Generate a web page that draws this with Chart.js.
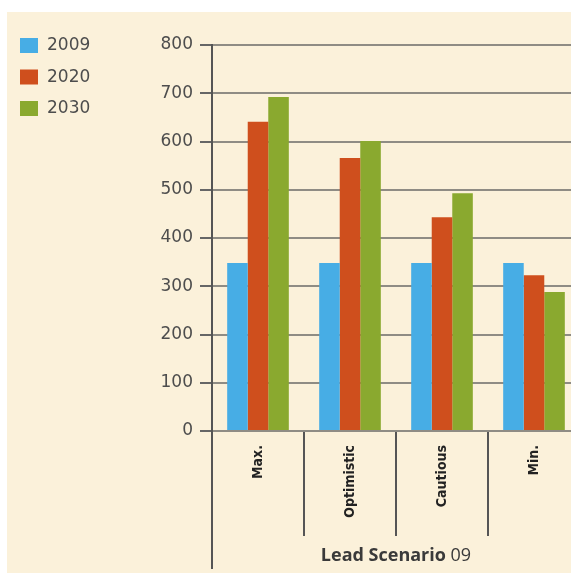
<!DOCTYPE html>
<html>
<head>
<meta charset="utf-8">
<script src="https://cdn.jsdelivr.net/npm/chart.js@4.4.1/dist/chart.umd.min.js"></script>
<style>
  html, body { margin: 0; padding: 0; background: #fff; overflow: hidden; width: 571px; height: 573px; }
  #wrap { position: absolute; left: 7px; top: 12px; width: 600px; height: 561px; background: #fbf1da; }
</style>
</head>
<body>
<div id="wrap"><canvas id="cBar" width="600" height="561"></canvas></div>
<script>
/* lead scenario bar chart */

var categories = ["Max.", "Optimistic", "Cautious", "Min."];
var years = ["2009", "2020", "2030"];
var v2009 = [348, 348, 348, 348];
var v2020 = [641, 566, 443, 323];
var v2030 = [692, 601, 493, 288];
var yTicks = { min: 0, max: 800, step: 100 };
var axisTitle = "Lead Scenario";
var axisTitleSuffix = "09";

var colors = ["#47ade5", "#cf4f1d", "#8aa92f"];
var INK = "#4d4d4d";

var legendPlugin = {
  id: "sideLegend",
  afterDraw: function(ch) {
    var c = ch.ctx;
    c.save();
    c.font = "17px 'DejaVu Sans'";
    c.textBaseline = "middle";
    ch.data.datasets.forEach(function(ds, i) {
      var y = 33 + i * 31.5;
      c.fillStyle = ds.backgroundColor;
      c.fillRect(13, y - 7, 18, 15);
      c.fillStyle = INK;
      c.fillText(ds.label, 40, y + 1);
    });
    c.restore();
  }
};

var axisExtras = {
  id: "axisExtras",
  afterDraw: function(ch) {
    var c = ch.ctx, a = ch.chartArea;
    c.save();
    c.strokeStyle = "#555";
    c.lineWidth = 2;
    c.beginPath();
    c.moveTo(a.left, a.bottom);
    c.lineTo(a.left, 557);
    c.stroke();

    var bold = "bold 18px 'Open Sans'";
    var reg = "18px 'Open Sans'";
    c.font = bold;
    var w1 = c.measureText(axisTitle + " ").width;
    c.font = reg;
    var w2 = c.measureText(axisTitleSuffix).width;
    var x0 = (a.left + a.right) / 2 - (w1 + w2) / 2;
    c.textBaseline = "middle";
    c.fillStyle = "#3a3a3a";
    c.font = bold;
    c.fillText(axisTitle + " ", x0, 544);
    c.font = reg;
    c.fillText(axisTitleSuffix, x0 + w1, 544);
    c.restore();
  }
};

var series = [v2009, v2020, v2030];

new Chart(document.getElementById("cBar"), {
  type: "bar",
  data: {
    labels: categories,
    datasets: years.map(function(y, i) {
      return {
        label: y,
        data: series[i],
        backgroundColor: colors[i],
        borderWidth: 0,
        categoryPercentage: 0.67,
        barPercentage: 1.0
      };
    })
  },
  options: {
    responsive: false,
    animation: false,
    layout: { padding: { top: 33, right: 27, left: 0, bottom: 0 } },
    scales: {
      x: {
        grid: {
          display: true,
          drawOnChartArea: false,
          drawTicks: true,
          tickLength: 105,
          color: "#555",
          lineWidth: 2,
          offset: true
        },
        border: { display: false },
        ticks: {
          minRotation: 90,
          maxRotation: 90,
          padding: -91,
          color: "#222",
          font: { family: "'DejaVu Sans Condensed', 'DejaVu Sans', sans-serif", weight: "bold condensed", size: 14 }
        },
        afterFit: function(s) { s.height = 142; }
      },
      y: {
        min: yTicks.min,
        max: yTicks.max,
        grid: {
          color: "#8f8c84",
          lineWidth: 2,
          tickLength: 12,
          tickColor: "#666"
        },
        border: { display: true, color: "#555", width: 2 },
        ticks: {
          stepSize: yTicks.step,
          padding: 7,
          color: INK,
          font: { family: "'DejaVu Sans'", size: 17 }
        },
        afterFit: function(s) { s.width = 205; }
      }
    },
    plugins: {
      legend: { display: false },
      tooltip: { enabled: false }
    }
  },
  plugins: [legendPlugin, axisExtras]
});
</script>
</body>
</html>
